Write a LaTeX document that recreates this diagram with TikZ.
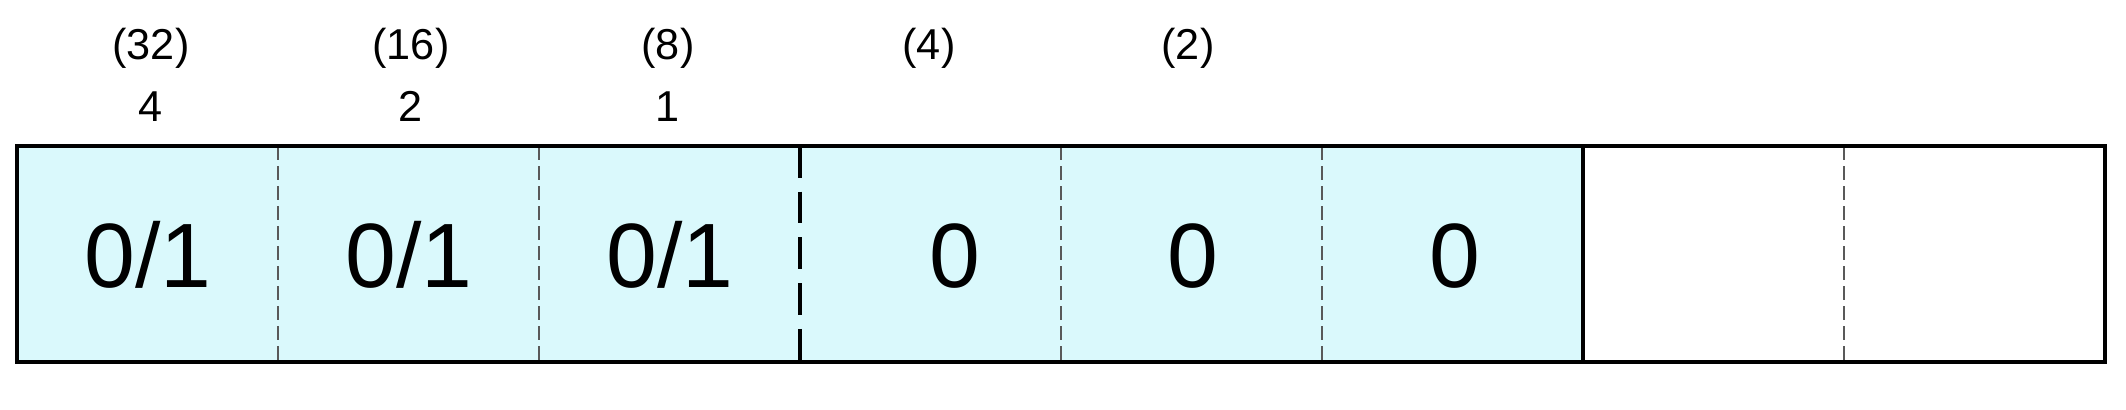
\documentclass[tikz,border=0pt]{standalone}
\usepackage{fontspec}
\setmainfont{Liberation Sans}
\definecolor{cellblue}{RGB}{218,249,252}

\begin{document}
\begin{tikzpicture}[
  thindiv/.style={gray!70!black, line width=0.4pt, dash pattern=on 4pt off 1.7pt},
  thickdiv/.style={line width=1.3pt, dash pattern=on 9pt off 4pt},
  bit/.style={anchor=base, font=\fontsize{26}{30}\selectfont},
  weight/.style={anchor=base, font=\fontsize{12.3}{14}\selectfont}]
  \useasboundingbox (0,0) rectangle (21.26,4.10);
  \fill[cellblue] (0.17,0.48) rectangle (15.83,2.64);
  \foreach \x in {2.78,5.39,10.61,13.22,18.44}
    \draw[thindiv] (\x,2.64) -- (\x,0.48);
  \draw[thickdiv] (8.00,2.64) -- (8.00,0.48);
  \draw[line width=1.3pt] (15.83,2.64) -- (15.83,0.48);
  \draw[line width=1.3pt] (0.17,0.48) rectangle (21.05,2.64);
  % bits
  \node[bit] (b1) at (1.48,1.22) {0/1};
  \node[bit] (b2) at (4.09,1.22) {0/1};
  \node[bit] (b3) at (6.70,1.22) {0/1};
  \node[bit] (b4) at (9.55,1.22) {0};
  \node[bit] (b5) at (11.93,1.22) {0};
  \node[bit] (b6) at (14.55,1.22) {0};
  % weights
  \node[weight] (w1) at (1.51,3.50) {(32)};
  \node[weight] (w2) at (4.11,3.50) {(16)};
  \node[weight] (w3) at (6.68,3.50) {(8)};
  \node[weight] (w4) at (9.29,3.50) {(4)};
  \node[weight] (w5) at (11.88,3.50) {(2)};
  \node[weight] (v1) at (1.51,2.88) {4};
  \node[weight] (v2) at (4.11,2.88) {2};
  \node[weight] (v3) at (6.68,2.88) {1};
\end{tikzpicture}
\end{document}
